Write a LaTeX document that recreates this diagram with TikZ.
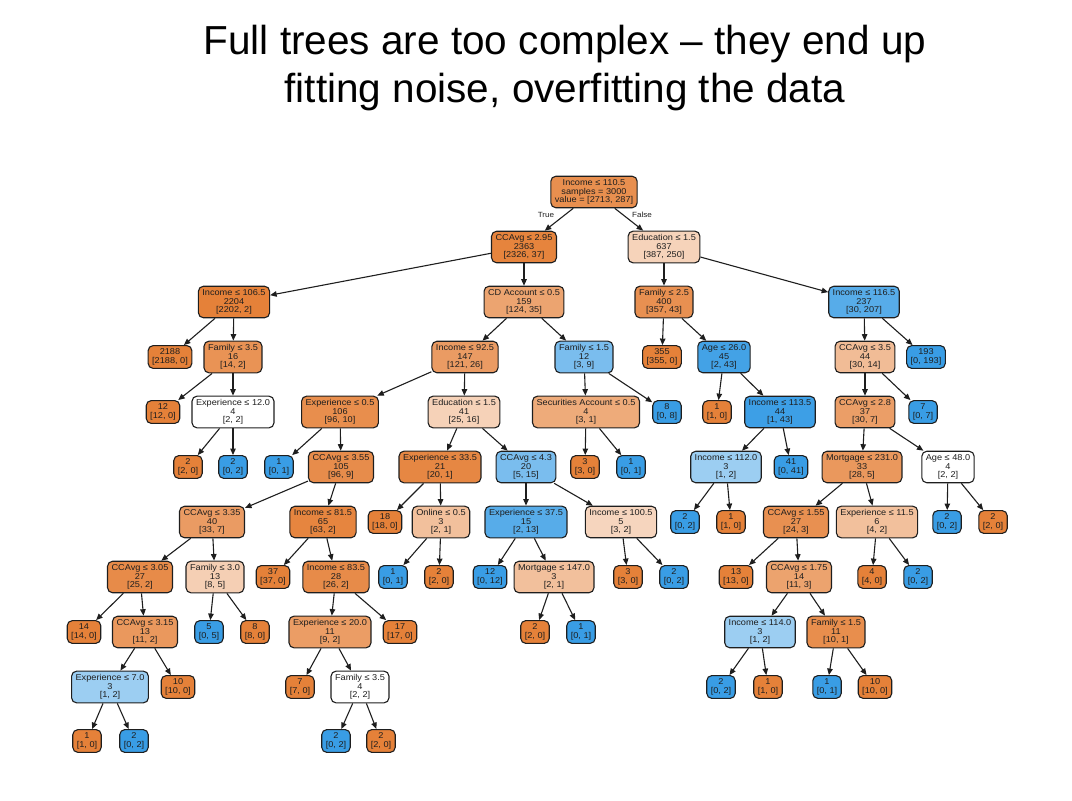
\documentclass[tikz,border=0pt]{standalone}
\usepackage{fontspec}
\setmainfont{Liberation Sans}
\newfontfamily\treefont[FakeStretch=1.08]{Liberation Sans}
\usetikzlibrary{arrows.meta}
\definecolor{orng}{RGB}{229,129,57}
\definecolor{blu}{RGB}{57,157,229}
\definecolor{inkc}{RGB}{30,30,30}
\tikzset{
  nd/.style={draw=inkc, line width=1.1pt, rounded corners=5pt, align=center,
    font=\treefont\fontsize{8.5}{8.7}\selectfont, text=inkc,
    inner xsep=4pt, inner ysep=3.2pt},
  po/.style={nd, fill=orng!#1!white},
  pb/.style={nd, fill=blu!#1!white},
  edge/.style={draw=inkc, line width=1.1pt, -{Triangle[length=6.5pt,width=5.5pt]}},
  branch/.style={font=\treefont\fontsize{7.5}{8}\selectfont, text=inkc}
}
\begin{document}
\begin{tikzpicture}[x=1pt,y=-1pt]
\useasboundingbox (0,0) rectangle (1072,801);
% heading
\node[font=\fontsize{40.5}{48}\selectfont, align=center, text=black] (title) at (565,68)
  {Full trees are too complex -- they end up\\fitting noise, overfitting the data};

% level 0-1
\node[po=89] (n0) at (594,192) {Income ≤ 110.5\\samples = 3000\\value = [2713, 287]};
\node[po=98] (n1) at (524,247) {CCAvg ≤ 2.95\\2363\\{}[2326, 37]};
\node[po=35] (n2) at (664,247) {Education ≤ 1.5\\637\\{}[387, 250]};
% level 2
\node[po=100] (n3) at (234,302) {Income ≤ 106.5\\2204\\{}[2202, 2]};
\node[po=72] (n4) at (524,302) {CD Account ≤ 0.5\\159\\{}[124, 35]};
\node[po=88] (n5) at (664,302) {Family ≤ 2.5\\400\\{}[357, 43]};
\node[pb=85] (n6) at (864,302) {Income ≤ 116.5\\237\\{}[30, 207]};
% level 3
\node[po=100] (n7) at (170,357) {2188\\{}[2188, 0]};
\node[po=86] (n8) at (233,357) {Family ≤ 3.5\\16\\{}[14, 2]};
\node[po=79] (n9) at (465,357) {Income ≤ 92.5\\147\\{}[121, 26]};
\node[pb=67] (n10) at (584,357) {Family ≤ 1.5\\12\\{}[3, 9]};
\node[po=100] (n11) at (662,357) {355\\{}[355, 0]};
\node[pb=95] (n12) at (724,357) {Age ≤ 26.0\\45\\{}[2, 43]};
\node[po=53] (n13) at (865,357) {CCAvg ≤ 3.5\\44\\{}[30, 14]};
\node[pb=100] (n14) at (926,357) {193\\{}[0, 193]};
% level 4
\node[po=100] (n15) at (163,412) {12\\{}[12, 0]};
\node[po=0] (n16) at (233,412) {Experience ≤ 12.0\\4\\{}[2, 2]};
\node[po=90] (n17) at (340,412) {Experience ≤ 0.5\\106\\{}[96, 10]};
\node[po=36] (n18) at (464,412) {Education ≤ 1.5\\41\\{}[25, 16]};
\node[po=67] (n19) at (586,412) {Securities Account ≤ 0.5\\4\\{}[3, 1]};
\node[pb=100] (n20) at (667,412) {8\\{}[0, 8]};
\node[po=100] (n21) at (717,412) {1\\{}[1, 0]};
\node[pb=98] (n22) at (780,412) {Income ≤ 113.5\\44\\{}[1, 43]};
\node[po=77] (n23) at (865,412) {CCAvg ≤ 2.8\\37\\{}[30, 7]};
\node[pb=100] (n24) at (923,412) {7\\{}[0, 7]};
% level 5
\node[po=100] (n25) at (188,467) {2\\{}[2, 0]};
\node[pb=100] (n26) at (233,467) {2\\{}[0, 2]};
\node[pb=100] (n27) at (279,467) {1\\{}[0, 1]};
\node[po=91] (n28) at (341,467) {CCAvg ≤ 3.55\\105\\{}[96, 9]};
\node[po=95] (n29) at (440,467) {Experience ≤ 33.5\\21\\{}[20, 1]};
\node[pb=67] (n30) at (526,467) {CCAvg ≤ 4.3\\20\\{}[5, 15]};
\node[po=100] (n31) at (585,467) {3\\{}[3, 0]};
\node[pb=100] (n32) at (631,467) {1\\{}[0, 1]};
\node[pb=50] (n33) at (726,467) {Income ≤ 112.0\\3\\{}[1, 2]};
\node[pb=100] (n34) at (791,467) {41\\{}[0, 41]};
\node[po=82] (n35) at (862,467) {Mortgage ≤ 231.0\\33\\{}[28, 5]};
\node[po=0] (n36) at (948,467) {Age ≤ 48.0\\4\\{}[2, 2]};
% level 6
\node[po=79] (n37) at (212,522) {CCAvg ≤ 3.35\\40\\{}[33, 7]};
\node[po=97] (n38) at (323,522) {Income ≤ 81.5\\65\\{}[63, 2]};
\node[po=100] (n39) at (385,522) {18\\{}[18, 0]};
\node[po=50] (n40) at (441,522) {Online ≤ 0.5\\3\\{}[2, 1]};
\node[pb=85] (n41) at (526,522) {Experience ≤ 37.5\\15\\{}[2, 13]};
\node[po=33] (n42) at (621,522) {Income ≤ 100.5\\5\\{}[3, 2]};
\node[pb=100] (n43) at (685,522) {2\\{}[0, 2]};
\node[po=100] (n44) at (731,522) {1\\{}[1, 0]};
\node[po=88] (n45) at (796,522) {CCAvg ≤ 1.55\\27\\{}[24, 3]};
\node[po=50] (n46) at (877,522) {Experience ≤ 11.5\\6\\{}[4, 2]};
\node[pb=100] (n47) at (947,522) {2\\{}[0, 2]};
\node[po=100] (n48) at (993,522) {2\\{}[2, 0]};
% level 7
\node[po=92] (n49) at (140,577) {CCAvg ≤ 3.05\\27\\{}[25, 2]};
\node[po=38] (n50) at (215,577) {Family ≤ 3.0\\13\\{}[8, 5]};
\node[po=100] (n51) at (273,577) {37\\{}[37, 0]};
\node[po=92] (n52) at (336,577) {Income ≤ 83.5\\28\\{}[26, 2]};
\node[pb=100] (n53) at (393,577) {1\\{}[0, 1]};
\node[po=100] (n54) at (439,577) {2\\{}[2, 0]};
\node[pb=100] (n55) at (490,577) {12\\{}[0, 12]};
\node[po=50] (n56) at (554,577) {Mortgage ≤ 147.0\\3\\{}[2, 1]};
\node[po=100] (n57) at (628,577) {3\\{}[3, 0]};
\node[pb=100] (n58) at (674,577) {2\\{}[0, 2]};
\node[po=100] (n59) at (736,577) {13\\{}[13, 0]};
\node[po=73] (n60) at (799,577) {CCAvg ≤ 1.75\\14\\{}[11, 3]};
\node[po=100] (n61) at (872,577) {4\\{}[4, 0]};
\node[pb=100] (n62) at (918,577) {2\\{}[0, 2]};
% level 8
\node[po=100] (n63) at (84,632) {14\\{}[14, 0]};
\node[po=82] (n64) at (145,632) {CCAvg ≤ 3.15\\13\\{}[11, 2]};
\node[pb=100] (n65) at (209,632) {5\\{}[0, 5]};
\node[po=100] (n66) at (255,632) {8\\{}[8, 0]};
\node[po=78] (n67) at (330,632) {Experience ≤ 20.0\\11\\{}[9, 2]};
\node[po=100] (n68) at (400,632) {17\\{}[17, 0]};
\node[po=100] (n69) at (535,632) {2\\{}[2, 0]};
\node[pb=100] (n70) at (581,632) {1\\{}[0, 1]};
\node[pb=50] (n71) at (760,632) {Income ≤ 114.0\\3\\{}[1, 2]};
\node[po=90] (n72) at (836,632) {Family ≤ 1.5\\11\\{}[10, 1]};
% level 9
\node[pb=50] (n73) at (110,687) {Experience ≤ 7.0\\3\\{}[1, 2]};
\node[po=100] (n74) at (178,687) {10\\{}[10, 0]};
\node[po=100] (n75) at (300,687) {7\\{}[7, 0]};
\node[po=0] (n76) at (360,687) {Family ≤ 3.5\\4\\{}[2, 2]};
\node[pb=100] (n77) at (721,687) {2\\{}[0, 2]};
\node[po=100] (n78) at (768,687) {1\\{}[1, 0]};
\node[pb=100] (n79) at (827,687) {1\\{}[0, 1]};
\node[po=100] (n80) at (875,687) {10\\{}[10, 0]};
% level 10
\node[po=100] (n81) at (87,741) {1\\{}[1, 0]};
\node[pb=100] (n82) at (134,741) {2\\{}[0, 2]};
\node[pb=100] (n83) at (336,741) {2\\{}[0, 2]};
\node[po=100] (n84) at (381,741) {2\\{}[2, 0]};

% splits
\foreach \p/\c in {n0/n1,n0/n2,n1/n3,n1/n4,n2/n5,n2/n6,n3/n7,n3/n8,n8/n15,n8/n16,
  n16/n25,n16/n26,n4/n9,n4/n10,n9/n17,n9/n18,n17/n27,n17/n28,n28/n37,n28/n38,
  n37/n49,n37/n50,n49/n63,n49/n64,n64/n73,n64/n74,n73/n81,n73/n82,n50/n65,n50/n66,
  n38/n51,n38/n52,n52/n67,n52/n68,n67/n75,n67/n76,n76/n83,n76/n84,n18/n29,n18/n30,
  n29/n39,n29/n40,n40/n53,n40/n54,n30/n41,n30/n42,n41/n55,n41/n56,n56/n69,n56/n70,
  n42/n57,n42/n58,n10/n19,n10/n20,n19/n31,n19/n32,n5/n11,n5/n12,n12/n21,n12/n22,
  n22/n33,n22/n34,n33/n43,n33/n44,n6/n13,n6/n14,n13/n23,n13/n24,n23/n35,n23/n36,
  n35/n45,n35/n46,n45/n59,n45/n60,n60/n71,n60/n72,n71/n77,n71/n78,n72/n79,n72/n80,
  n46/n61,n46/n62,n36/n47,n36/n48}
  \draw[edge] (\p) -- (\c);

\node[branch] (tlab) at (546,215) {True};
\node[branch] (flab) at (642,215) {False};
\end{tikzpicture}
\end{document}
